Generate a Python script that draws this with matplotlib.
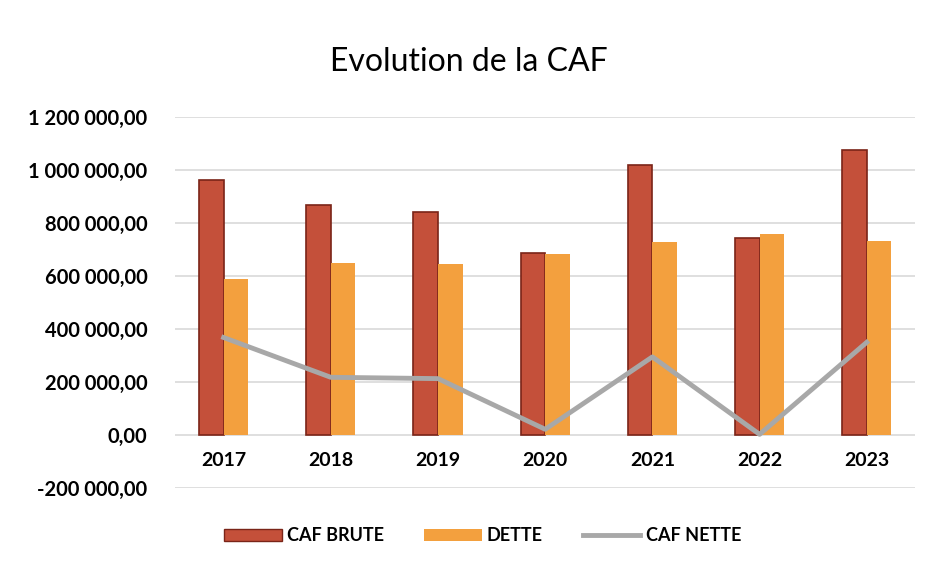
import matplotlib
matplotlib.use("Agg")
import matplotlib.pyplot as plt
import numpy as np
from matplotlib.lines import Line2D
from matplotlib.patches import Patch

years = ["2017", "2018", "2019", "2020", "2021", "2022", "2023"]
caf_brute = [960000, 866000, 840000, 688000, 1020000, 745000, 1075000]
dette = [590000, 650000, 645000, 683000, 728000, 760000, 730000]
caf_nette = [368000, 218000, 213000, 22000, 295000, 3000, 350000]
yticks = [-200000, 0, 200000, 400000, 600000, 800000, 1000000, 1200000]

RED = "#c4503a"
RED_EDGE = "#7a2418"
ORANGE = "#f3a03e"
GREY = "#a8a8a8"

plt.rcParams["font.family"] = ["Lato", "DejaVu Sans"]


def fr_fmt(v):
    s = f"{abs(v):,.2f}".replace(",", " ").replace(".", ",")
    return ("-" if v < 0 else "") + s


fig = plt.figure(figsize=(9.28, 5.67), dpi=100)
ax = fig.add_axes([0.189, 0.139, 0.797, 0.655])

x = np.arange(len(years))
w = 0.23
ax.bar(x - w / 2, caf_brute, w, color=RED, edgecolor=RED_EDGE, linewidth=1.2, zorder=2)
ax.bar(x + w / 2, dette, w, color=ORANGE, edgecolor="none", zorder=2)
ax.plot(x, caf_nette, color=GREY, linewidth=3.5, zorder=3)

ax.set_ylim(-200000, 1200000)
ax.set_xlim(-0.45, len(years) - 0.55)
ax.set_yticks(yticks)
ax.set_yticklabels([fr_fmt(v) for v in yticks], fontsize=14.5, fontweight="bold")
ax.set_xticks([])
ax.tick_params(axis="y", length=0, pad=20)
ax.grid(axis="y", color="#d9d9d9", linewidth=1.2, zorder=0)
for s in ax.spines.values():
    s.set_visible(False)

for i, yr in enumerate(years):
    ax.annotate(yr, xy=(i, 0), xytext=(0, -12), textcoords="offset points",
                ha="center", va="top", fontsize=14, fontweight="bold")

fig.text(0.505, 0.89, "Evolution de la CAF", ha="center", va="center", fontsize=23)

handles = [Patch(facecolor=RED, edgecolor=RED_EDGE), Patch(facecolor=ORANGE),
           Line2D([0], [0], color=GREY, linewidth=3.5)]
fig.legend(handles, ["CAF BRUTE", "DETTE", "CAF NETTE"], loc="center",
           bbox_to_anchor=(0.52, 0.055), ncol=3, frameon=False,
           prop={"size": 13, "weight": "bold"},
           handlelength=3.2, columnspacing=2.2, handletextpad=0.3)

fig.savefig("out.png", dpi=100)
